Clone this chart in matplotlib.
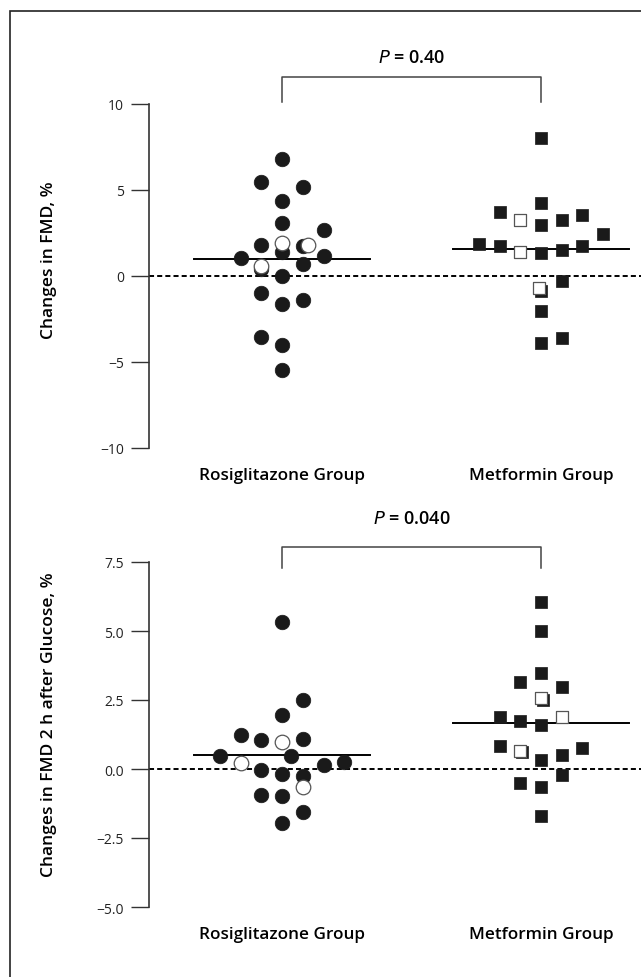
import matplotlib
matplotlib.use("Agg")
import matplotlib.pyplot as plt
from matplotlib.patches import Rectangle
import numpy as np

plt.rcParams['font.family'] = ['Open Sans', 'DejaVu Sans']

groups = ["Rosiglitazone Group", "Metformin Group"]

# top panel: changes in FMD (value, swarm slot)
fmd_rosi_filled = [(6.8, 0), (5.47, -1), (5.17, 1), (4.36, 0), (3.08, 0), (2.67, 2),
                   (1.80, -1), (1.4, 0), (1.74, 1), (1.05, -2), (1.16, 2), (0.70, 1),
                   (0.4, -1), (0.0, 0), (-1.0, -1), (-1.62, 0), (-1.38, 1),
                   (-3.53, -1), (-4.0, 0), (-5.47, 0)]
fmd_rosi_open = [(1.92, 0), (1.8, 1.25), (0.58, -1)]
fmd_met_filled = [(8.02, 0), (4.24, 0), (3.72, -2), (3.26, 1), (3.55, 2), (2.96, 0),
                  (2.44, 3), (1.86, -3), (1.74, -2), (1.34, 0), (1.5, 1), (1.76, 2),
                  (-0.3, 1), (-0.86, 0), (-2.03, 0), (-3.89, 0), (-3.6, 1)]
fmd_met_open = [(3.26, -1), (1.4, -1), (-0.7, -0.1)]
fmd_means = [0.99, 1.57]
fmd_p = "0.40"

# bottom panel: changes in FMD 2 h after glucose
glu_rosi_filled = [(5.33, 0), (2.5, 1), (1.96, 0), (1.24, -2), (1.05, -1), (1.08, 1),
                   (0.47, -3), (0.48, 0.45), (0.14, 2), (0.25, 3), (-0.04, -1),
                   (-0.18, 0), (-0.25, 1), (-0.93, -1), (-0.99, 0), (-1.56, 1),
                   (-1.96, 0)]
glu_rosi_open = [(0.98, 0), (0.22, -2), (-0.65, 1)]
glu_met_filled = [(6.05, 0), (5.0, 0), (3.48, 0), (3.15, -1), (2.97, 1), (2.5, 0.1),
                  (1.88, -2), (1.74, -1), (1.6, 0), (0.83, -2), (0.6, -0.9), (0.76, 2),
                  (0.33, 0), (0.51, 1), (-0.21, 1), (-0.51, -1), (-0.65, 0), (-1.7, 0)]
glu_met_open = [(2.57, 0), (1.88, 1), (0.65, -1)]
glu_means = [0.51, 1.67]
glu_p = "0.040"

SLOT = 0.08  # x-spacing of swarm columns


def swarm(ax, x0, pts, marker, size, filled):
    vals = np.array(pts)
    xs = x0 + vals[:, 1] * SLOT
    if filled:
        ax.scatter(xs, vals[:, 0], s=size, marker=marker, color='#1a1a1a',
                   edgecolors='#1a1a1a', linewidths=0.5, zorder=3, clip_on=False)
    else:
        ax.scatter(xs, vals[:, 0], s=size, marker=marker, facecolors='white',
                   edgecolors='#555555', linewidths=0.9, zorder=4, clip_on=False)


def panel(ax, rosi_f, rosi_o, met_f, met_o, means, ylim, ticks, ticklabels,
          ylabel, label_y, p, br_top, br_leg, p_y):
    ax.set_xlim(0.486, 2.386)
    ax.set_ylim(*ylim)
    for s in ['top', 'right', 'bottom']:
        ax.spines[s].set_visible(False)
    ax.spines['left'].set_color('#333333')
    ax.spines['left'].set_linewidth(1.2)
    ax.set_yticks(ticks)
    ax.set_yticklabels(ticklabels)
    ax.tick_params(axis='y', direction='out', length=13, width=1.0,
                   color='#333333', labelsize=10, labelcolor='#222222', pad=5)
    ax.set_xticks([1, 2])
    ax.set_xticklabels(groups, fontsize=12.3, fontweight='semibold')
    ax.tick_params(axis='x', length=0, pad=14)
    ax.set_ylabel(ylabel, fontsize=12.5, fontweight='semibold')
    ax.yaxis.set_label_coords(-0.187, label_y)

    ax.axhline(0, color='black', lw=1.4, ls=(0, (2.6, 1.6)), zorder=1)
    for x0, m in zip([1, 2], means):
        ax.plot([x0 - 0.34, x0 + 0.34], [m, m], color='black', lw=1.4, zorder=2)

    swarm(ax, 1, rosi_f, 'o', 110, True)
    swarm(ax, 1, rosi_o, 'o', 110, False)
    swarm(ax, 2, met_f, 's', 72, True)
    swarm(ax, 2, met_o, 's', 72, False)

    ax.plot([1, 1, 2, 2], [br_leg, br_top, br_top, br_leg], color='#444444',
            lw=1.1, clip_on=False)
    ax.text(1.5, p_y, r"$\it{P}$ = " + p, ha='center', va='center',
            fontsize=13, fontweight='semibold')


fig = plt.figure(figsize=(6.41, 9.78), dpi=100)

ax1 = fig.add_axes([149 / 641, 1 - 449 / 978, 1 - 149 / 641, 344 / 978])
panel(ax1, fmd_rosi_filled, fmd_rosi_open, fmd_met_filled, fmd_met_open,
      fmd_means, (-10, 10), [-10, -5, 0, 5, 10], ['\u221210', '\u22125', '0', '5', '10'],
      "Changes in FMD, %", 0.55, fmd_p, 11.55, 10.1, 12.75)

ax2 = fig.add_axes([149 / 641, 1 - 908 / 978, 1 - 149 / 641, 345 / 978])
panel(ax2, glu_rosi_filled, glu_rosi_open, glu_met_filled, glu_met_open,
      glu_means, (-5, 7.5), [-5, -2.5, 0, 2.5, 5, 7.5],
      ['\u22125.0', '\u22122.5', '0.0', '2.5', '5.0', '7.5'],
      "Changes in FMD 2 h after Glucose, %", 0.53, glu_p, 8.04, 7.3, 9.1)

fig.patches.append(Rectangle((10 / 641, -0.1), 2, 1.1 - 12 / 978, fill=False,
                             lw=1.2, ec='#222222', transform=fig.transFigure))

fig.savefig("out.png", dpi=100)
